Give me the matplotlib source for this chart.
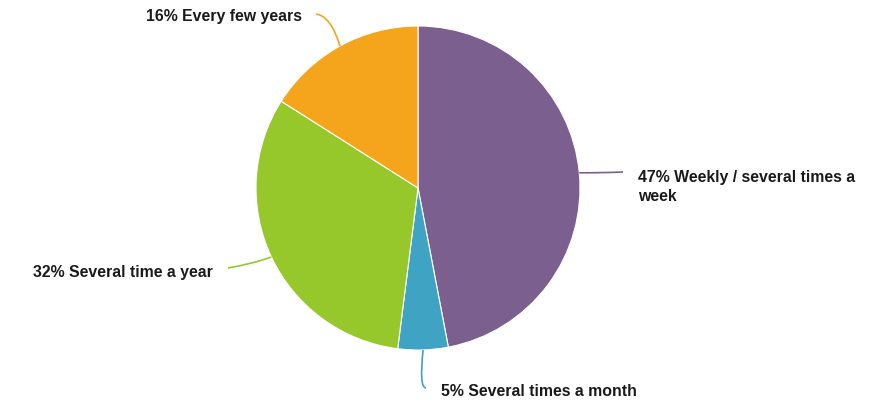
import numpy as np
import matplotlib.pyplot as plt
from matplotlib.path import Path
from matplotlib.patches import PathPatch

plt.rcParams['font.family'] = ['Liberation Sans', 'DejaVu Sans']

# share of answers, clockwise from 12 o'clock
labels = ["Weekly / several times a\nweek", "Several times a month",
          "Several time a year", "Every few years"]
shares = [47, 5, 32, 16]
colors = ["#7b5f8f", "#3fa3c4", "#96c72b", "#f5a51b"]

W, H = 891, 404
cx, cy, r = 418, H - 188, 162

fig = plt.figure(figsize=(W / 100, H / 100), dpi=100)
ax = fig.add_axes([0, 0, 1, 1])

wedges, _ = ax.pie(shares, colors=colors, startangle=90, counterclock=False,
                   center=(cx, cy), radius=r, frame=True,
                   wedgeprops=dict(edgecolor='white', linewidth=0.8))
ax.set_xlim(0, W)
ax.set_ylim(0, H)
ax.axis('off')

# leader line end, bend control and text anchor for each slice (pixel coords, y down)
leaders = [
    dict(end=(623, 172), ctrl=(600, 173), text=(638, 187), ha='left'),
    dict(end=(426, 388), ctrl=(419, 388), text=(441, 391), ha='left'),
    dict(end=(228, 268), ctrl=(252, 264), text=(213, 272), ha='right'),
    dict(end=(316, 14), ctrl=(331, 16), text=(302, 16), ha='right'),
]

for w, lab, val, c, ld in zip(wedges, labels, shares, colors, leaders):
    ang = np.deg2rad((w.theta1 + w.theta2) / 2)
    start = (cx + r * np.cos(ang), cy + r * np.sin(ang))
    end = (ld['end'][0], H - ld['end'][1])
    ctrl = (ld['ctrl'][0], H - ld['ctrl'][1])
    path = Path([start, ctrl, end], [Path.MOVETO, Path.CURVE3, Path.CURVE3])
    ax.add_patch(PathPatch(path, fill=False, edgecolor=c, linewidth=1.2))
    tx, ty = ld['text']
    ax.text(tx, H - ty, f"{val}% {lab}", ha=ld['ha'], va='center',
            fontsize=11.4, fontweight='bold', color='#1a1a1a', linespacing=1.3)

fig.savefig("out.png", dpi=100)
